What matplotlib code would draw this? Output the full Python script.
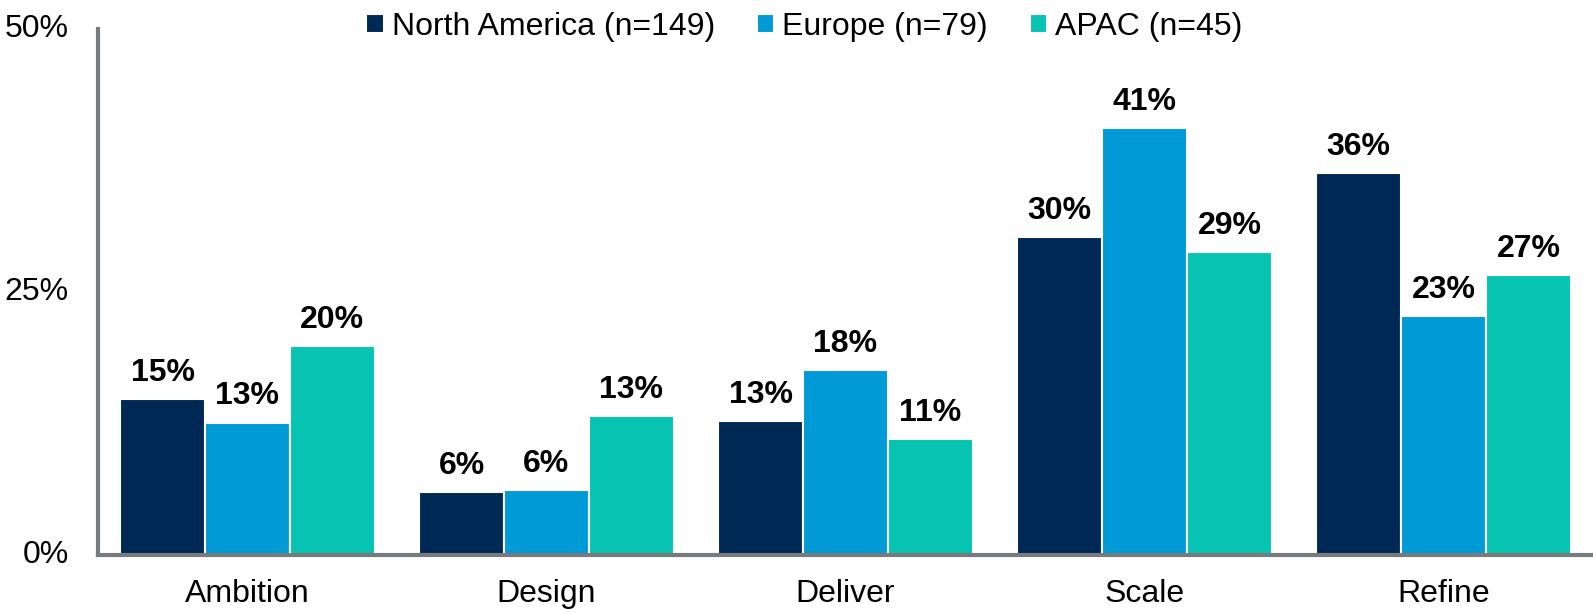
import matplotlib
matplotlib.use("Agg")
import matplotlib.pyplot as plt
import numpy as np

plt.rcParams["font.family"] = ["Liberation Sans", "DejaVu Sans"]

categories = ["Ambition", "Design", "Deliver", "Scale", "Refine"]
series_names = ["North America (n=149)", "Europe (n=79)", "APAC (n=45)"]
north_america = [14.8, 6.0, 12.7, 30.2, 36.3]
europe = [12.6, 6.2, 17.6, 40.6, 22.7]
apac = [19.9, 13.2, 11.0, 28.8, 26.6]
colors = ["#002855", "#009ad6", "#07c4b2"]

fig = plt.figure(figsize=(15.93, 6.12), dpi=100)
ax = fig.add_axes([0.0615, 0.093, 0.9385, 0.8596])

x = np.arange(len(categories))
width = 0.284
for i, (name, vals) in enumerate(zip(series_names, [north_america, europe, apac])):
    pos = x + (i - 1) * width
    ax.bar(pos, vals, width, color=colors[i], edgecolor="white", linewidth=1.5, label=name)
    for px, v in zip(pos, vals):
        ax.annotate(f"{round(v)}%", (px, v), xytext=(0, 8), textcoords="offset points",
                    ha="center", va="bottom", fontsize=23, fontweight="bold")

ax.set_xlim(-0.5, 4.5)
ax.set_ylim(0, 50)
ax.set_yticks([0, 25, 50])
ax.set_yticklabels(["0%", "25%", "50%"])
ax.set_xticks(x)
ax.set_xticklabels(categories)
ax.tick_params(axis="both", length=0, labelsize=23)
ax.tick_params(axis="x", pad=17)
ax.tick_params(axis="y", pad=21)
for lab in ax.get_yticklabels():
    lab.set_verticalalignment("center")
for side in ["top", "right"]:
    ax.spines[side].set_visible(False)
for side in ["left", "bottom"]:
    ax.spines[side].set_color("#767b7d")
    ax.spines[side].set_linewidth(3)

fig.legend(loc="upper center", bbox_to_anchor=(0.505, 1.028), ncol=3, frameon=False,
           fontsize=23, handlelength=0.55, handleheight=0.55, handletextpad=0.25,
           columnspacing=1.3)

fig.savefig("out.png", dpi=100)
